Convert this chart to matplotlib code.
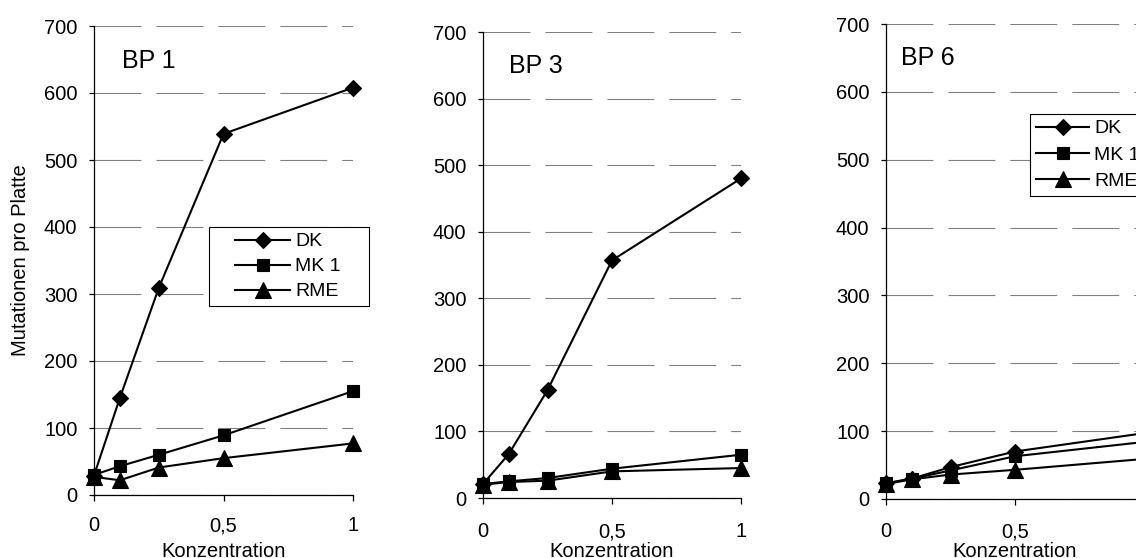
import matplotlib
matplotlib.use("Agg")
import matplotlib.pyplot as plt
from matplotlib.transforms import blended_transform_factory
from matplotlib.legend_handler import HandlerLine2D
from matplotlib.lines import Line2D

# ---------------- data ----------------
konzentration = [0, 0.1, 0.25, 0.5, 1]
panel_titles = ["BP 1", "BP 3", "BP 6"]
series_names = ["DK", "MK 1", "RME"]

bp1_dk = [29, 145, 309, 539, 608]
bp1_mk1 = [30, 43, 60, 89, 155]
bp1_rme = [27, 22, 41, 55, 77]

bp3_dk = [21, 66, 162, 357, 480]
bp3_mk1 = [21, 25, 30, 44, 65]
bp3_rme = [20, 24, 26, 40, 45]

bp6_dk = [23, 30, 47, 70, 97]
bp6_mk1 = [23, 30, 42, 63, 84]
bp6_rme = [22, 29, 36, 43, 59]

x_ticks = [0, 0.5, 1]
x_tick_labels = ["0", "0,5", "1"]
y_ticks = [0, 100, 200, 300, 400, 500, 600, 700]
x_label = "Konzentration"
y_label = "Mutationen pro Platte"

panel_data = [
    [bp1_dk, bp1_mk1, bp1_rme],
    [bp3_dk, bp3_mk1, bp3_rme],
    [bp6_dk, bp6_mk1, bp6_rme],
]

# ---------------- style ----------------
plt.rcParams["font.family"] = ["Liberation Sans", "DejaVu Sans"]
plt.rcParams["lines.scale_dashes"] = False

W, H = 1136, 558
fig = plt.figure(figsize=(W / 100, H / 100), dpi=100)

# pixel boxes: left, right, top, bottom
boxes = [(94, 353, 26, 495), (483, 741, 32, 498), (886, 1144, 24, 499)]
title_pos = [(122, 68), (509, 73), (901, 65)]
xpads = [10.8, 13.0, 12.2]
markers = ["D", "s", "^"]
msizes = [7.8, 8.6, 11.0]

for i, (l, r, t, b) in enumerate(boxes):
    ax = fig.add_axes([l / W, (H - b) / H, (r - l) / W, (b - t) / H])
    lines = []
    for vals, mk, ms, name in zip(panel_data[i], markers, msizes, series_names):
        ln, = ax.plot(konzentration, vals, color="black", lw=1.5, marker=mk,
                      ms=ms, mfc="black", mec="black", mew=0.8,
                      clip_on=False, zorder=5, label=name)
        lines.append(ln)
    ax.set_xlim(0, 1)
    ax.set_ylim(0, 700)
    ax.set_xticks(x_ticks)
    ax.set_xticklabels(x_tick_labels)
    ax.set_yticks(y_ticks)
    ax.grid(axis="y", color="#808080", lw=0.8, linestyle=(0, (33.8, 10.8)))
    ax.set_axisbelow(True)
    for s in ["top", "right"]:
        ax.spines[s].set_visible(False)
    for s in ["left", "bottom"]:
        ax.spines[s].set_color("black")
        ax.spines[s].set_linewidth(0.9)
        ax.spines[s].set_zorder(3)
    ax.tick_params(axis="y", direction="out", length=3.6, width=0.9,
                   pad=8.3, labelsize=14.5, colors="black")
    ax.tick_params(axis="x", direction="out", length=4.5, width=0.9,
                   pad=xpads[i], labelsize=14.5, colors="black")

    tx, ty = title_pos[i]
    ax.text((tx - l) / (r - l), (b - ty) / (b - t), panel_titles[i],
            transform=ax.transAxes, fontsize=18, ha="left", va="baseline")

    ax.set_xlabel(x_label, fontsize=14.5)
    ax.xaxis.set_label_coords(0.5, 1 - 557 / H,
                              transform=blended_transform_factory(ax.transAxes, fig.transFigure))
    ax.xaxis.label.set_va("baseline")

    if i == 0:
        ax.set_ylabel(y_label, fontsize=14.5)
        ax.yaxis.set_label_coords(21 / W, 0.5,
                                  transform=blended_transform_factory(fig.transFigure, ax.transAxes))
        ax.yaxis.label.set_va("center")
        leg = ax.legend(handles=lines, loc="upper left",
                        bbox_to_anchor=(209 / W, 1 - 315 / H, 160 / W, 88 / H),
                        bbox_transform=fig.transFigure, mode="expand",
                        borderaxespad=0, borderpad=0.3, fontsize=14,
                        handlelength=3.87, handletextpad=0.26, labelspacing=0.38,
                        fancybox=False, framealpha=1, edgecolor="black",
                        handler_map={Line2D: HandlerLine2D(xpad=1.04)})
    elif i == 2:
        leg = ax.legend(handles=lines, loc="upper left",
                        bbox_to_anchor=(1030 / W, 1 - 114 / H),
                        bbox_transform=fig.transFigure,
                        borderaxespad=0, borderpad=0.3, fontsize=14,
                        handlelength=2.75, handletextpad=0.26, labelspacing=0.45,
                        fancybox=False, framealpha=1, edgecolor="black")
    else:
        leg = None
    if leg is not None:
        leg.get_frame().set_linewidth(0.8)
        leg.set_zorder(10)

fig.savefig("out.png", dpi=100)
